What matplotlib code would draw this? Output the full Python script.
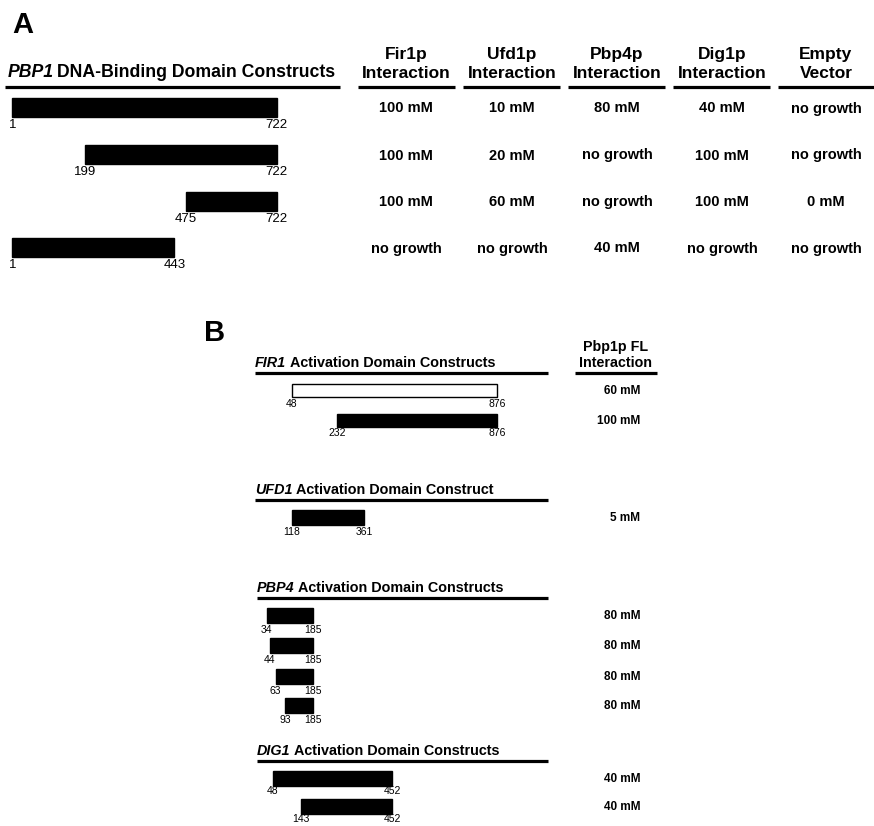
import matplotlib.pyplot as plt

# Panel A: PBP1 DNA-binding domain constructs
pbp1_start = [1, 199, 475, 1]
pbp1_end = [722, 722, 722, 443]
partner_line1 = ['Fir1p', 'Ufd1p', 'Pbp4p', 'Dig1p', 'Empty']
partner_line2 = ['Interaction', 'Interaction', 'Interaction', 'Interaction', 'Vector']
fir1p = ['100 mM', '100 mM', '100 mM', 'no growth']
ufd1p = ['10 mM', '20 mM', '60 mM', 'no growth']
pbp4p = ['80 mM', 'no growth', 'no growth', '40 mM']
dig1p = ['40 mM', '100 mM', '100 mM', 'no growth']
empty = ['no growth', 'no growth', '0 mM', 'no growth']

# Panel B: activation domain constructs
fir1_start = [48, 232]
fir1_end = [876, 876]
fir1_filled = [False, True]
fir1_vals = ['60 mM', '100 mM']
ufd1_start = [118]
ufd1_end = [361]
ufd1_vals = ['5 mM']
pbp4_start = [34, 44, 63, 93]
pbp4_end = [185, 185, 185, 185]
pbp4_vals = ['80 mM', '80 mM', '80 mM', '80 mM']
dig1_start = [48, 143]
dig1_end = [452, 452]
dig1_vals = ['40 mM', '40 mM']


def header(ax, x, y, gene, rest, size):
    t = ax.text(x, y, gene, fontsize=size, fontweight='bold', style='italic',
                ha='left', va='bottom')
    ax.annotate(rest, xy=(1, 0), xycoords=t, xytext=(2.5, 0),
                textcoords='offset points', fontsize=size, fontweight='bold',
                ha='left', va='bottom')


def underline(ax, x0, x1, y):
    ax.plot([x0, x1], [y, y], color='black', lw=2.3, solid_capstyle='butt')


def constructs(ax, starts, ends, rows, offset, scale, height, fsize, gap, filled=None):
    for i, (s, e) in enumerate(zip(starts, ends)):
        y = rows[i]
        fill = True if filled is None else filled[i]
        left = offset + s * scale
        right = offset + e * scale
        ax.barh(y, right - left, left=left, height=height,
                color='black' if fill else 'white', edgecolor='black', lw=1)
        ly = y + height / 2 + gap
        ax.text(left, ly, str(s), fontsize=fsize, ha='center', va='center')
        ax.text(right, ly, str(e), fontsize=fsize, ha='center', va='center')


def main():
    plt.rcParams['font.family'] = ['Liberation Sans', 'DejaVu Sans']
    fig = plt.figure(figsize=(8.74, 8.26), dpi=100)
    ax = fig.add_axes([0, 0, 1, 1])
    ax.set_xlim(0, 874)
    ax.set_ylim(826, 0)
    ax.axis('off')

    # ---- panel A ----
    ax.text(12, 33, 'A', fontsize=21, fontweight='bold', va='baseline')
    header(ax, 8, 81, 'PBP1', 'DNA-Binding Domain Constructs', 12.7)
    underline(ax, 5, 340, 86.5)

    rows_a = [107.5, 154.5, 201, 247.5]
    constructs(ax, pbp1_start, pbp1_end, rows_a, 12.0, 0.3665, 19, 9.5, 8)

    col_x = [406, 512, 617, 722, 826]
    col_lines = [(358, 455), (463, 560), (568, 665), (673, 770), (778, 874)]
    cols = [fir1p, ufd1p, pbp4p, dig1p, empty]
    for j in range(len(col_x)):
        ax.text(col_x[j], 59, partner_line1[j], fontsize=12.5, fontweight='bold',
                ha='center', va='baseline')
        ax.text(col_x[j], 78.5, partner_line2[j], fontsize=12.5, fontweight='bold',
                ha='center', va='baseline')
        underline(ax, col_lines[j][0], col_lines[j][1], 87)
        for i, v in enumerate(cols[j]):
            ax.text(col_x[j], rows_a[i] + 5, v, fontsize=10.5, fontweight='bold',
                    ha='center', va='baseline')

    # ---- panel B ----
    ax.text(204, 341, 'B', fontsize=21, fontweight='bold', va='baseline')
    ax.text(616, 351, 'Pbp1p FL', fontsize=10.3, fontweight='bold', ha='center', va='baseline')
    ax.text(616, 367, 'Interaction', fontsize=10.3, fontweight='bold', ha='center', va='baseline')
    underline(ax, 575, 657, 373)

    val_x = 640
    fs_val = 8.5
    fs_num = 7.5

    header(ax, 255, 370, 'FIR1', 'Activation Domain Constructs', 10.4)
    underline(ax, 255, 548, 373)
    rows = [390.5, 420]
    constructs(ax, fir1_start, fir1_end, rows, 280.0, 0.2475, 13, fs_num, 7, fir1_filled)
    for y, v in zip(rows, fir1_vals):
        ax.text(val_x, y + 3.5, v, fontsize=fs_val, fontweight='bold', ha='right', va='baseline')

    header(ax, 255, 497, 'UFD1', 'Activation Domain Construct', 10.4)
    underline(ax, 255, 548, 500)
    rows = [517.5]
    constructs(ax, ufd1_start, ufd1_end, rows, 257.0, 0.2963, 15, fs_num, 7)
    for y, v in zip(rows, ufd1_vals):
        ax.text(val_x, y + 3.5, v, fontsize=fs_val, fontweight='bold', ha='right', va='baseline')

    header(ax, 257, 595, 'PBP4', 'Activation Domain Constructs', 10.4)
    underline(ax, 257, 548, 598)
    rows = [615.5, 645.5, 676, 705.5]
    constructs(ax, pbp4_start, pbp4_end, rows, 256.0, 0.31, 15, fs_num, 7)
    for y, v in zip(rows, pbp4_vals):
        ax.text(val_x, y + 3.5, v, fontsize=fs_val, fontweight='bold', ha='right', va='baseline')

    header(ax, 257, 758, 'DIG1', 'Activation Domain Constructs', 10.4)
    underline(ax, 257, 548, 761)
    rows = [778.5, 806.5]
    constructs(ax, dig1_start, dig1_end, rows, 258.9, 0.2946, 15, fs_num, 5.5)
    for y, v in zip(rows, dig1_vals):
        ax.text(val_x, y + 3.5, v, fontsize=fs_val, fontweight='bold', ha='right', va='baseline')

    fig.savefig('out.png', dpi=100, facecolor='white')


if __name__ == '__main__':
    main()
